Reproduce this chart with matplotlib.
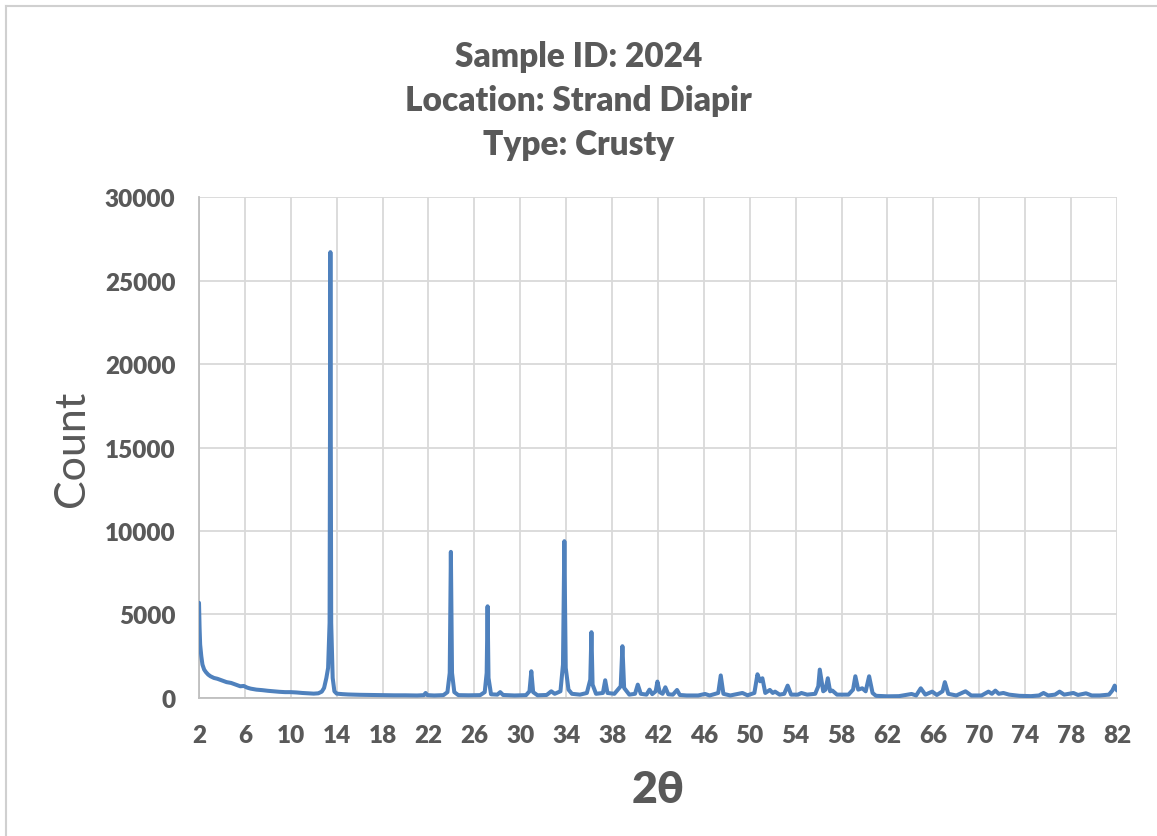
import matplotlib.pyplot as plt
from matplotlib.lines import Line2D

# diffractogram trace, 2-theta in degrees and detector counts
two_theta = [
    2.0, 2.05, 2.1, 2.2, 2.3, 2.45, 2.6, 2.8, 3.0, 3.3, 3.6, 4.0, 4.4, 4.8, 5.2, 5.6, 5.9, 6.2,
    6.5, 7.0, 7.5, 8.0, 8.5, 9.0, 9.5, 10.0, 10.5, 11.0, 11.5, 12.0, 12.4, 12.7, 12.9, 13.1,
    13.25, 13.38, 13.45, 13.52, 13.65, 13.8, 14.0, 14.5, 15.0, 16.0, 17.0, 18.0, 19.0, 20.0,
    21.0, 21.6, 21.75, 21.9, 22.5, 23.3, 23.65, 23.85, 23.95, 24.05, 24.25, 24.6, 25.5, 26.5,
    26.9, 27.07, 27.15, 27.23, 27.45, 28.0, 28.25, 28.5, 29.5, 30.5, 30.8, 30.96, 31.12,
    31.5, 32.3, 32.7, 33.0, 33.5, 33.72, 33.84, 33.96, 34.2, 34.5, 35.2, 35.8, 36.1, 36.2,
    36.3, 36.6, 37.2, 37.4, 37.6, 38.2, 38.75, 38.9, 39.05, 39.5, 40.0, 40.24, 40.5, 41.0,
    41.26, 41.5, 41.8, 41.95, 42.15, 42.4, 42.64, 42.9, 43.3, 43.66, 43.9, 44.5, 45.5, 46.1,
    46.5, 47.25, 47.47, 47.7, 48.3, 49.36, 49.8, 50.4, 50.67, 50.9, 51.1, 51.35, 51.75, 52.0,
    52.2, 52.6, 53.0, 53.3, 53.6, 54.2, 54.5, 55.0, 55.7, 55.97, 56.1, 56.4, 56.6, 56.8,
    57.0, 57.2, 57.6, 58.6, 59.0, 59.2, 59.45, 59.8, 60.1, 60.4, 60.7, 61.0, 62.0, 63.0,
    64.1, 64.5, 64.9, 65.3, 65.9, 66.3, 66.8, 67.0, 67.3, 68.0, 68.8, 69.3, 70.2, 70.8,
    71.1, 71.4, 71.7, 72.1, 72.6, 73.5, 74.5, 75.2, 75.6, 76.0, 76.6, 77.0, 77.4, 78.2,
    78.6, 79.3, 79.8, 80.5, 81.3, 81.6, 81.8, 82.0,
]
counts = [
    5700, 4200, 3200, 2500, 2000, 1700, 1550, 1400, 1300, 1200, 1150, 1050, 950, 900, 800, 700, 720, 620,
    560, 500, 470, 430, 400, 370, 350, 350, 330, 300, 280, 260, 280, 380, 600, 1200,
    1800, 4500, 26700, 4500, 1200, 400, 260, 230, 210, 190, 180, 170, 160, 160,
    150, 170, 300, 170, 150, 170, 350, 1500, 8750, 1500, 350, 170, 160, 170,
    350, 1500, 5490, 1200, 220, 200, 350, 180, 150, 170, 400, 1600, 350,
    160, 180, 400, 250, 400, 2000, 9390, 1800, 500, 250, 200, 300, 1100, 3940,
    800, 250, 300, 1060, 300, 250, 700, 3100, 600, 200, 250, 800, 250, 200,
    500, 230, 400, 980, 350, 250, 640, 220, 200, 480, 180, 150, 150, 240,
    150, 300, 1350, 250, 150, 300, 160, 300, 1420, 1000, 1180, 300, 480, 300,
    380, 200, 250, 740, 200, 200, 300, 200, 250, 700, 1700, 400, 500, 1180,
    400, 440, 200, 200, 500, 1300, 500, 580, 400, 1300, 300, 130, 100, 110,
    240, 150, 580, 200, 380, 180, 400, 950, 250, 150, 400, 150, 150, 380,
    250, 440, 250, 300, 200, 130, 110, 150, 300, 150, 200, 380, 200, 300,
    180, 280, 150, 150, 200, 450, 740, 450,
]

x_ticks = list(range(2, 83, 4))
y_ticks = [0, 5000, 10000, 15000, 20000, 25000, 30000]

title_lines = ['Sample ID: 2024', 'Location: Strand Diapir', 'Type: Crusty']

text_color = '#595959'
line_color = '#4F81BD'
grid_color = '#D9D9D9'
fonts = ['Lato', 'DejaVu Sans']

fig = plt.figure(figsize=(11.57, 8.37), dpi=100)
ax = fig.add_axes([0.172, 0.1649, 0.7934, 0.5985])

ax.plot(two_theta, counts, color=line_color, lw=2.9, solid_joinstyle='round',
        solid_capstyle='round', zorder=3)

ax.set_xlim(2, 82)
ax.set_ylim(0, 30000)
ax.set_xticks(x_ticks)
ax.set_yticks(y_ticks)
ax.grid(True, color=grid_color, lw=1.3)
ax.set_axisbelow(True)
ax.tick_params(axis='x', length=0, pad=19)
ax.tick_params(axis='y', length=0, pad=17)
ax.tick_params(labelsize=17.5, labelcolor=text_color)
for lab in ax.get_xticklabels() + ax.get_yticklabels():
    lab.set_family(fonts)
    lab.set_fontweight('heavy')

for side in ['top', 'right']:
    ax.spines[side].set_visible(False)
for side in ['left', 'bottom']:
    ax.spines[side].set_color('#BFBFBF')
    ax.spines[side].set_linewidth(1.3)

ax.set_ylabel('Count', family=fonts, fontsize=31, color=text_color, labelpad=10)
ax.set_xlabel('2θ', family=fonts, fontsize=32, fontweight='heavy', color=text_color, labelpad=16)

# three-line chart title
for i, line in enumerate(title_lines):
    fig.text(0.5, 1 - (57 + 44 * i) / 837, line, ha='center', va='center',
             family=fonts, fontsize=24, fontweight='heavy', color=text_color)

# chart frame edges
fig.add_artist(Line2D([0.005, 1], [1 - 7 / 837, 1 - 7 / 837], color='#D0D0D0', lw=1.5))
fig.add_artist(Line2D([0.005, 0.005], [0, 1 - 7 / 837], color='#D0D0D0', lw=1.5))

fig.savefig('out.png', dpi=100)
